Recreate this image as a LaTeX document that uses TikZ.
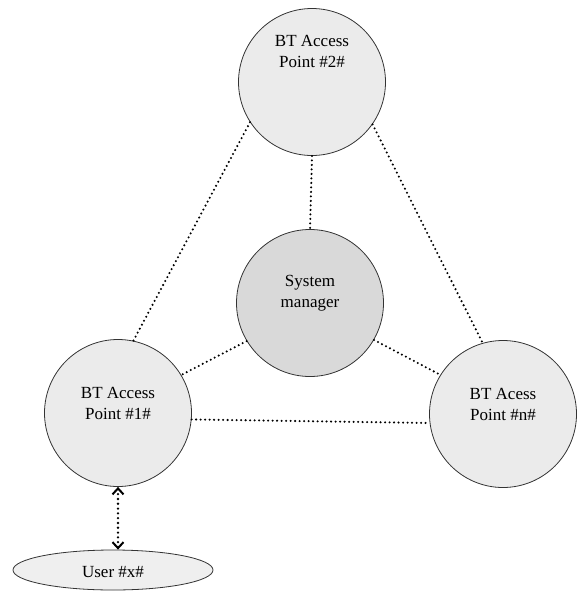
\documentclass[tikz,border=0pt]{standalone}
\usepackage{fontspec}
\setmainfont{Liberation Serif}
\usetikzlibrary{arrows.meta,shapes.geometric}
\definecolor{apfill}{HTML}{EBEBEB}
\definecolor{smfill}{HTML}{D9D9D9}
\definecolor{userfill}{HTML}{EFEFEF}
\definecolor{edge}{HTML}{333333}
\tikzset{
  apnode/.style={circle, draw=edge, line width=0.8pt, fill=apfill, minimum size=147pt, inner sep=0pt},
  smnode/.style={circle, draw=edge, line width=0.8pt, fill=smfill, minimum size=147pt, inner sep=0pt},
  usernode/.style={ellipse, draw=edge, line width=0.8pt, fill=userfill, minimum width=200pt, minimum height=40pt, inner sep=0pt},
  lbl/.style={align=center, inner sep=0pt, font=\fontsize{17}{21}\selectfont},
  dotlink/.style={draw=black, line width=2.3pt, line cap=round, dash pattern=on 0pt off 4.5pt},
  dotarrow/.style={draw=black, line width=2.6pt, line cap=round, dash pattern=on 0pt off 4.8pt,
    {Straight Barb[length=6pt,width=11pt,line width=2pt]}-{Straight Barb[length=6pt,width=11pt,line width=2pt]}}
}
\begin{document}
\begin{tikzpicture}[x=1pt,y=-1pt]
\useasboundingbox (0,0) rectangle (576,592);
\node[apnode] (ap2) at (312,82) {};
\node[smnode] (sm) at (310,303) {};
\node[apnode] (ap1) at (118,413) {};
\node[apnode] (apn) at (503,414) {};
\node[usernode] (user) at (113,570) {};

\node[lbl] (t2) at (312,51) {BT Access\\Point \#2\#};
\node[lbl] (tsm) at (310,293) {System\\manager};
\node[lbl] (t1) at (118,403) {BT Access\\Point \#1\#};
\node[lbl] (tn) at (503,404) {BT Acess\\Point \#n\#};
\node[lbl] (tu) at (113,572) {User \#x\#};

\draw[dotlink] (ap2.213) -- (ap1.78);
\draw[dotlink] (ap2.325) -- (apn.106);
\draw[dotlink] (ap2.south) -- (sm.north);
\draw[dotlink] (sm.211.6) -- (ap1.31);
\draw[dotlink] (sm.330.6) -- (apn.148);
\draw[dotlink] (ap1.-5) -- (apn.187);
\draw[dotarrow] (ap1.south) -- (ap1.south |- user.north);
\end{tikzpicture}
\end{document}
